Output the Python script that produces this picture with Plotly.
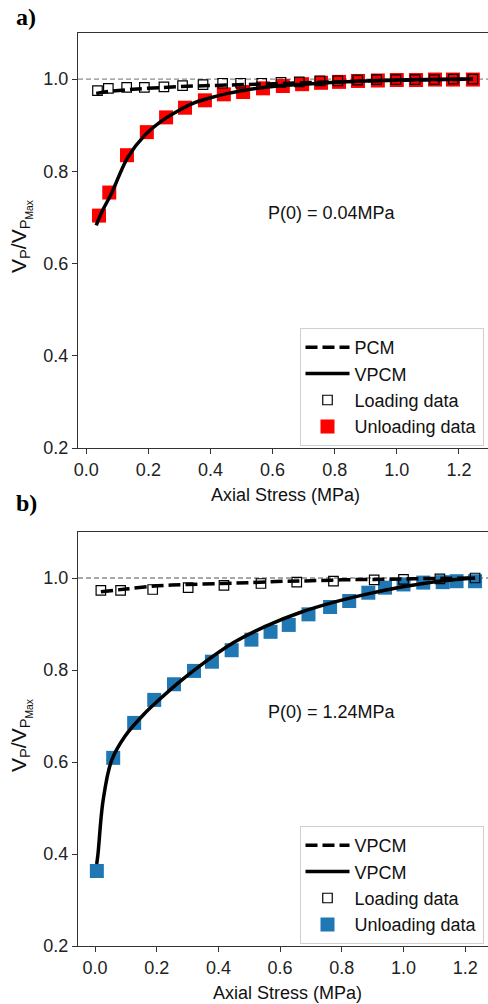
import plotly.graph_objects as go

W, H = 488, 1004

# ---------------- data: panel a ----------------
a_unload_x = [0.041, 0.074, 0.131, 0.195, 0.257, 0.318, 0.382, 0.443, 0.505, 0.569, 0.633,
              0.695, 0.756, 0.814, 0.875, 0.939, 1.000, 1.062, 1.123, 1.181, 1.245]
a_unload_y = [0.704, 0.754, 0.835, 0.885, 0.917, 0.938, 0.954, 0.967, 0.972, 0.980, 0.985,
              0.989, 0.992, 0.994, 0.996, 0.997, 0.998, 0.998, 0.999, 0.999, 0.999]
a_load_x = [0.036, 0.071, 0.130, 0.187, 0.250, 0.310, 0.376, 0.439, 0.497, 0.565, 0.627,
            0.686, 0.753, 0.810, 0.874, 0.935, 0.997, 1.059, 1.121, 1.182, 1.245]
a_load_y = [0.975, 0.980, 0.982, 0.982, 0.983, 0.986, 0.988, 0.991, 0.991, 0.991, 0.993,
            0.994, 0.996, 0.996, 0.998, 0.999, 0.999, 0.999, 0.999, 1.000, 1.000]
a_pcm_x = [0.032, 0.07, 0.15, 0.25, 0.35, 0.45, 0.55, 0.65, 0.75, 0.85, 0.95, 1.05, 1.15, 1.245]
a_pcm_y = [0.969, 0.973, 0.978, 0.982, 0.985, 0.987, 0.989, 0.991, 0.993, 0.995, 0.997, 0.998, 0.999, 1.000]
a_vpcm_x = [0.032, 0.05, 0.081, 0.134, 0.188, 0.242, 0.295, 0.349, 0.403, 0.456, 0.51,
            0.617, 0.7, 0.8, 0.9, 1.0, 1.1, 1.245]
a_vpcm_y = [0.683, 0.712, 0.752, 0.831, 0.878, 0.909, 0.931, 0.949, 0.960, 0.969, 0.976,
            0.985, 0.989, 0.993, 0.996, 0.998, 0.999, 1.000]

# ---------------- data: panel b ----------------
b_unload_x = [0.006, 0.059, 0.127, 0.192, 0.256, 0.321, 0.379, 0.443, 0.507, 0.569, 0.628,
              0.692, 0.762, 0.824, 0.886, 0.940, 1.000, 1.064, 1.127, 1.172, 1.232]
b_unload_y = [0.363, 0.609, 0.685, 0.735, 0.769, 0.798, 0.818, 0.843, 0.866, 0.883, 0.898,
              0.921, 0.937, 0.950, 0.968, 0.979, 0.986, 0.990, 0.991, 0.993, 0.993]
b_load_x = [0.019, 0.083, 0.187, 0.302, 0.418, 0.538, 0.654, 0.773, 0.905, 1.000, 1.118, 1.232]
b_load_y = [0.973, 0.973, 0.975, 0.979, 0.984, 0.988, 0.991, 0.993, 0.996, 0.997, 0.998, 1.000]
b_pcm_x = [0.019, 0.1, 0.204, 0.3, 0.41, 0.5, 0.615, 0.7, 0.8, 0.9, 1.0, 1.1, 1.232]
b_pcm_y = [0.970, 0.976, 0.983, 0.986, 0.988, 0.990, 0.993, 0.994, 0.996, 0.997, 0.998, 0.999, 1.000]
b_vpcm_x = [0.0055, 0.0097, 0.026, 0.053, 0.096, 0.16, 0.204, 0.27, 0.34, 0.448, 0.556,
            0.665, 0.772, 0.881, 0.989, 1.053, 1.13, 1.232]
b_vpcm_y = [0.378, 0.40, 0.515, 0.602, 0.655, 0.705, 0.733, 0.772, 0.809, 0.859, 0.896,
            0.925, 0.947, 0.965, 0.980, 0.987, 0.994, 1.000]

x_ticks = [0.0, 0.2, 0.4, 0.6, 0.8, 1.0, 1.2]
y_ticks = [0.2, 0.4, 0.6, 0.8, 1.0]

RED = "#ff0000"
BLUE = "#1f77b4"
FONT = "Liberation Sans, Arial, sans-serif"

fig = go.Figure()

def add_panel(xa, ya, leg, ux, uy, ucol, lx, ly, px, py, pname, vx, vy, vname):
    fig.add_trace(go.Scatter(x=ux, y=uy, mode="markers", name="Unloading data",
                             marker=dict(symbol="square", size=14, color=ucol, line=dict(width=0)),
                             xaxis=xa, yaxis=ya, legend=leg, legendrank=4))
    fig.add_trace(go.Scatter(x=lx, y=ly, mode="markers", name="Loading data",
                             marker=dict(symbol="square-open", size=9.5, color="black",
                                         line=dict(width=1.2, color="black")),
                             xaxis=xa, yaxis=ya, legend=leg, legendrank=3))
    fig.add_trace(go.Scatter(x=px, y=py, mode="lines", name=pname, line_shape="spline",
                             line=dict(color="black", width=3.5, dash="12px,5px"),
                             xaxis=xa, yaxis=ya, legend=leg, legendrank=1))
    fig.add_trace(go.Scatter(x=vx, y=vy, mode="lines", name=vname, line_shape="spline",
                             line=dict(color="black", width=3.5),
                             xaxis=xa, yaxis=ya, legend=leg, legendrank=2))

add_panel("x", "y", "legend", a_unload_x, a_unload_y, RED, a_load_x, a_load_y,
          a_pcm_x, a_pcm_y, "PCM", a_vpcm_x, a_vpcm_y, "VPCM")
add_panel("x2", "y2", "legend2", b_unload_x, b_unload_y, BLUE, b_load_x, b_load_y,
          b_pcm_x, b_pcm_y, "VPCM", b_vpcm_x, b_vpcm_y, "VPCM")

def px2py(p):
    return 1 - p / H

xdom = [78 / W, 1.0]
axis_common = dict(showline=True, linecolor="#333333", linewidth=1.2, ticks="outside",
                   ticklen=5, tickwidth=1.2, tickcolor="#333333", showgrid=False,
                   zeroline=False, automargin=False,
                   tickfont=dict(family=FONT, size=18, color="#222222"))

fig.update_layout(
    width=W, height=H, margin=dict(l=0, r=0, t=0, b=0),
    plot_bgcolor="white", paper_bgcolor="white", template="none",
    xaxis=dict(domain=xdom, range=[-0.0267, 1.2937], anchor="y", mirror=True,
               tickvals=x_ticks, tickformat=".1f", **axis_common),
    yaxis=dict(domain=[px2py(448), px2py(33)], range=[0.2, 1.1], anchor="x",
               tickvals=y_ticks, tickformat=".1f", **axis_common),
    xaxis2=dict(domain=xdom, range=[-0.0551, 1.2739], anchor="y2", mirror=True,
                tickvals=x_ticks, tickformat=".1f", **axis_common),
    yaxis2=dict(domain=[px2py(946), px2py(532)], range=[0.2, 1.1], anchor="x2",
                tickvals=y_ticks, tickformat=".1f", **axis_common),
    legend=dict(x=299.5 / W, y=px2py(328), xanchor="left", yanchor="top",
                bordercolor="#d0d0d0", borderwidth=1, bgcolor="white",
                font=dict(family=FONT, size=18, color="#111111"), itemwidth=44,
                tracegroupgap=0),
    legend2=dict(x=299.5 / W, y=px2py(826), xanchor="left", yanchor="top",
                 bordercolor="#d0d0d0", borderwidth=1, bgcolor="white",
                 font=dict(family=FONT, size=18, color="#111111"), itemwidth=44,
                 tracegroupgap=0),
    showlegend=True,
)

# reference dashed lines at 1.0
for xr, yr in [("x", "y"), ("x2", "y2")]:
    fig.add_shape(type="line", xref=f"{xr} domain", yref=yr, x0=0, x1=1, y0=1.0, y1=1.0,
                  line=dict(color="#8c8c8c", width=1.3, dash="5px,3px"), layer="below")

ytitle = "V<sub>P</sub>/V<sub>P<sub>Max</sub></sub>"
annots = [
    dict(text="<b>a)</b>", x=26 / W, y=px2py(17), font=dict(family="Liberation Serif, Times New Roman, serif", size=24, color="black")),
    dict(text="<b>b)</b>", x=26 / W, y=px2py(503), font=dict(family="Liberation Serif, Times New Roman, serif", size=24, color="black")),
    dict(text="P(0) = 0.04MPa", x=332 / W, y=px2py(213), font=dict(family=FONT, size=18, color="#111111")),
    dict(text="P(0) = 1.24MPa", x=332 / W, y=px2py(712), font=dict(family=FONT, size=18, color="#111111")),
    dict(text="Axial Stress (MPa)", x=285 / W, y=px2py(495), font=dict(family=FONT, size=18, color="#111111")),
    dict(text="Axial Stress (MPa)", x=287 / W, y=px2py(993), font=dict(family=FONT, size=18, color="#111111")),
    dict(text=ytitle, x=21 / W, y=px2py(236), textangle=-90, font=dict(family=FONT, size=21, color="#111111")),
    dict(text=ytitle, x=21 / W, y=px2py(735), textangle=-90, font=dict(family=FONT, size=21, color="#111111")),
]
for a in annots:
    fig.add_annotation(xref="paper", yref="paper", showarrow=False,
                       xanchor="center", yanchor="middle", **a)

fig.write_html("out.html")
